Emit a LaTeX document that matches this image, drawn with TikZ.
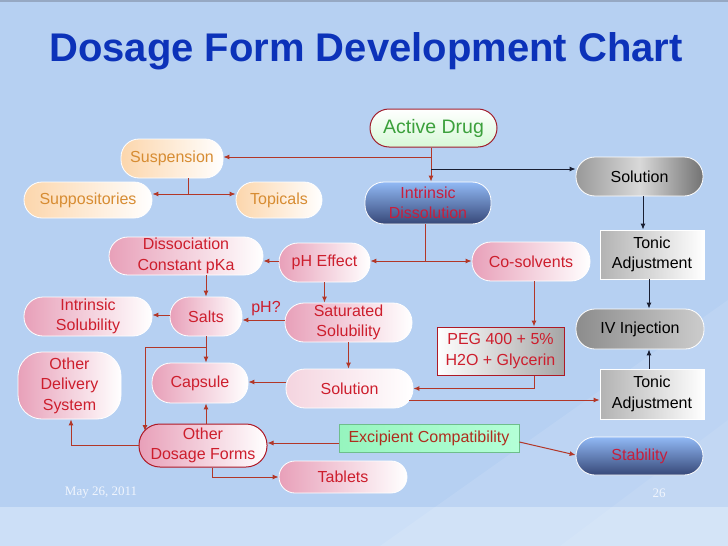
\documentclass[tikz,border=0pt]{standalone}
\usepackage{fontspec}
\setmainfont{Liberation Sans}
\newfontfamily\serifA{Liberation Serif}
\usetikzlibrary{arrows.meta}
\definecolor{bgA}{RGB}{182,208,242}
\definecolor{bgB}{RGB}{204,223,247}
\definecolor{titleC}{RGB}{12,50,185}
\definecolor{arrowred}{RGB}{178,55,40}
\definecolor{arrowblk}{RGB}{25,30,50}
\definecolor{redT}{RGB}{205,30,45}
\definecolor{crimT}{RGB}{200,30,60}
\definecolor{orT}{RGB}{215,140,50}
\definecolor{orF}{RGB}{252,214,172}
\definecolor{pinkF}{RGB}{232,160,185}
\definecolor{greenT}{RGB}{60,160,60}
\definecolor{greenL}{RGB}{215,248,215}
\definecolor{drugred}{RGB}{160,30,45}
\definecolor{blueTop}{RGB}{145,185,245}
\definecolor{blueBot}{RGB}{55,72,120}
\definecolor{excT}{RGB}{175,45,30}
\definecolor{excF}{RGB}{150,245,190}
\definecolor{excG}{RGB}{180,255,215}
\definecolor{footC}{RGB}{240,245,253}
\begin{document}
\begin{tikzpicture}[x=1pt,y=-1pt,
  font=\fontsize{16}{20.5}\selectfont,
  every node/.style={inner sep=0pt, align=center},
  rline/.style={draw=arrowred, line width=1pt},
  rarr/.style={draw=arrowred, line width=1pt, -{Latex[length=6pt,width=5pt]}},
  barr/.style={draw=arrowblk, line width=1pt, -{Latex[length=6pt,width=5pt]}},
  pinkpill/.style={draw=white, line width=0.8pt, left color=pinkF, right color=white, text=redT, rounded corners=19pt},
  orpill/.style={draw=white, line width=0.8pt, left color=orF, right color=white, text=orT, rounded corners=18pt},
  bluepill/.style={draw=white, line width=0.8pt, top color=blueTop, bottom color=blueBot, text=crimT, rounded corners=19pt},
  graypill/.style={draw=white, line width=0.8pt, left color=black!40, right color=black!55, middle color=black!15, text=black, rounded corners=19pt},
  graybox/.style={draw=white, line width=0.8pt, left color=black!30, right color=white, text=black},
]
\path[use as bounding box] (0,0) rectangle (728,546);
% background
\fill[bgA] (0,0) rectangle (728,507);
\fill[bgB] (0,507) rectangle (728,546);
\fill[white, opacity=0.10] (380,546) -- (728,300) -- (728,546) -- cycle;
\fill[white, opacity=0.08] (560,546) -- (728,420) -- (728,546) -- cycle;
\draw[line width=2pt, color={rgb,255:red,150;green,168;blue,195}] (0,1) -- (728,1);

% title
\node[text=titleC, font=\fontsize{40}{48}\selectfont\bfseries] (title) at (366,51) {Dosage Form Development Chart};

% nodes
\node[draw=drugred, line width=1pt, top color=white, bottom color=greenL, text=greenT, rounded corners=19pt,
  minimum width=127pt, minimum height=38pt, font=\fontsize{19.5}{22}\selectfont] (AD) at (433.5,128) {Active Drug};
\node[orpill, minimum width=102pt, minimum height=39pt] (Susp) at (172,158.5) {Suspension};
\node[orpill, minimum width=128pt, minimum height=36pt] (Supp) at (88,200) {Suppositories};
\node[orpill, minimum width=86pt, minimum height=36pt] (Top) at (279,200) {Topicals};
\node[bluepill, minimum width=126pt, minimum height=42pt] (ID) at (428,203) {Intrinsic\\Dissolution};
\node[graypill, minimum width=127pt, minimum height=39pt] (SolG) at (639.5,176.5) {Solution};
\node[graybox, minimum width=104pt, minimum height=49pt] (Ton1) at (652,254.5) {Tonic\\Adjustment};
\node[graypill, left color=black!45, middle color=black!8, right color=black!20, minimum width=128pt, minimum height=40pt] (IV) at (640,329) {IV Injection};
\node[graybox, minimum width=104pt, minimum height=50pt] (Ton2) at (652,394) {Tonic\\Adjustment};
\node[pinkpill, minimum width=91pt, minimum height=39pt] (pH) at (324.5,262.5) {pH Effect};
\node[pinkpill, minimum width=118pt, minimum height=39pt] (Co) at (531,261.5) {Co-solvents};
\node[pinkpill, minimum width=154pt, minimum height=38pt] (Diss) at (186,256) {Dissociation\\Constant pKa};
\node[pinkpill, minimum width=72pt, minimum height=39pt] (Salts) at (206,316.5) {Salts};
\node[pinkpill, minimum width=128pt, minimum height=39pt] (IS) at (88,316.5) {Intrinsic\\Solubility};
\node[pinkpill, minimum width=127pt, minimum height=39pt] (Sat) at (348.5,322.5) {Saturated\\Solubility};
\node[pinkpill, minimum width=96pt, minimum height=40pt] (Cap) at (200,383) {Capsule};
\node[pinkpill, left color=pinkF!45, minimum width=127pt, minimum height=39pt] (SolR) at (349.5,388.5) {Solution};
\node[draw=redT!85!black, line width=1pt, left color=white, right color=black!35, text=redT,
  minimum width=127pt, minimum height=48pt] (PEG) at (500.5,351) {PEG 400 + 5\%\\H2O + Glycerin};
\node[draw={rgb,255:red,110;green,190;blue,140}, line width=0.8pt, left color=excF, right color=excG, text=excT,
  minimum width=180pt, minimum height=28pt] (Exc) at (429,438) {Excipient Compatibility};
\node[bluepill, minimum width=127pt, minimum height=38pt] (Stab) at (639.5,456) {Stability};
\node[pinkpill, minimum width=128pt, minimum height=32pt, rounded corners=16pt] (Tab) at (343,477) {Tablets};
\node[pinkpill, draw=redT!85!black, line width=1pt, minimum width=128pt, minimum height=43pt, rounded corners=21pt] (ODF) at (203,445.5) {Other\\Dosage Forms};
\node[pinkpill, minimum width=103pt, minimum height=67pt, rounded corners=24pt] (OD) at (69.5,385.5) {Other\\Delivery\\System};

% labels
\node[text=redT] (phq) at (266,309) {pH?};
\node[text=footC, font=\serifA\fontsize{13}{15}\selectfont] (date) at (101,493) {May 26, 2011};
\node[text=footC, font=\serifA\fontsize{13}{15}\selectfont] (pg) at (659,493) {26};

% junction coordinates
\coordinate (jA) at (431,157);
\coordinate (jB) at (431,169);
\coordinate (jS) at (188,194);
\coordinate (xT) at (643,0);
\coordinate (xI) at (649,0);
\coordinate (jD) at (425,261);
\coordinate (jL1) at (206,347);
\coordinate (jL2) at (145,347);
\coordinate (jL3) at (145,431);
\coordinate (jP) at (534,388.5);
\coordinate (jR) at (409,400);
\coordinate (jTb) at (212,477);
\coordinate (jOD) at (71,445.5);

% connectors
\draw[rarr] (AD.south -| jA) -- (ID.north -| jA);
\draw[rarr] (jA) -- (jA -| Susp.east);
\draw[barr] (jB) -- (jB -| SolG.west);
\draw[rline] (Susp.south -| jS) -- (jS);
\draw[rarr] (jS) -- (jS -| Supp.east);
\draw[rarr] (jS) -- (jS -| Top.west);
\draw[barr] (SolG.south -| xT) -- (Ton1.north -| xT);
\draw[barr] (Ton1.south -| xI) -- (IV.north -| xI);
\draw[barr] (Ton2.north -| xI) -- (IV.south -| xI);
\draw[rline] (ID.south -| jD) -- (jD);
\draw[rarr] (jD) -- (jD -| pH.east);
\draw[rarr] (jD) -- (jD -| Co.west);
\draw[rarr] (pH.west |- jD) -- (jD -| Diss.east);
\draw[rarr] (Diss.south -| Salts.north) -- (Salts.north);
\draw[rarr] (Salts.west |- 0,315) -- (IS.east |- 0,315);
\draw[rarr] (Sat.west |- 0,320) -- (Salts.east |- 0,320);
\draw[rarr] (pH.south) -- (pH.south |- Sat.north);
\draw[rarr] (Sat.south) -- (Sat.south |- SolR.north);
\draw[rarr] (Salts.south) -- (Salts.south |- Cap.north);
\draw[rarr] (jL1) -- (jL2) -- (jL3);
\draw[rarr] (SolR.west |- 0,382) -- (Cap.east |- 0,382);
\draw[rarr] (Co.south -| jP) -- (PEG.north -| jP);
\draw[rarr] (PEG.south -| jP) -- (jP) -- (SolR.east);
\draw[rarr] (jR) -- (jR -| Ton2.west);
\draw[rarr] (Exc.west |- 0,443) -- (ODF.east |- 0,443);
\draw[rarr] ([yshift=-4pt]Exc.east) -- ([yshift=1pt]Stab.west);
\draw[rarr] (ODF.north -| 206,0) -- (Cap.south -| 206,0);
\draw[rarr] (ODF.south -| jTb) -- (jTb) -- (Tab.west);
\draw[rarr] (ODF.west) -- (jOD) -- (OD.south -| jOD);
\end{tikzpicture}
\end{document}
